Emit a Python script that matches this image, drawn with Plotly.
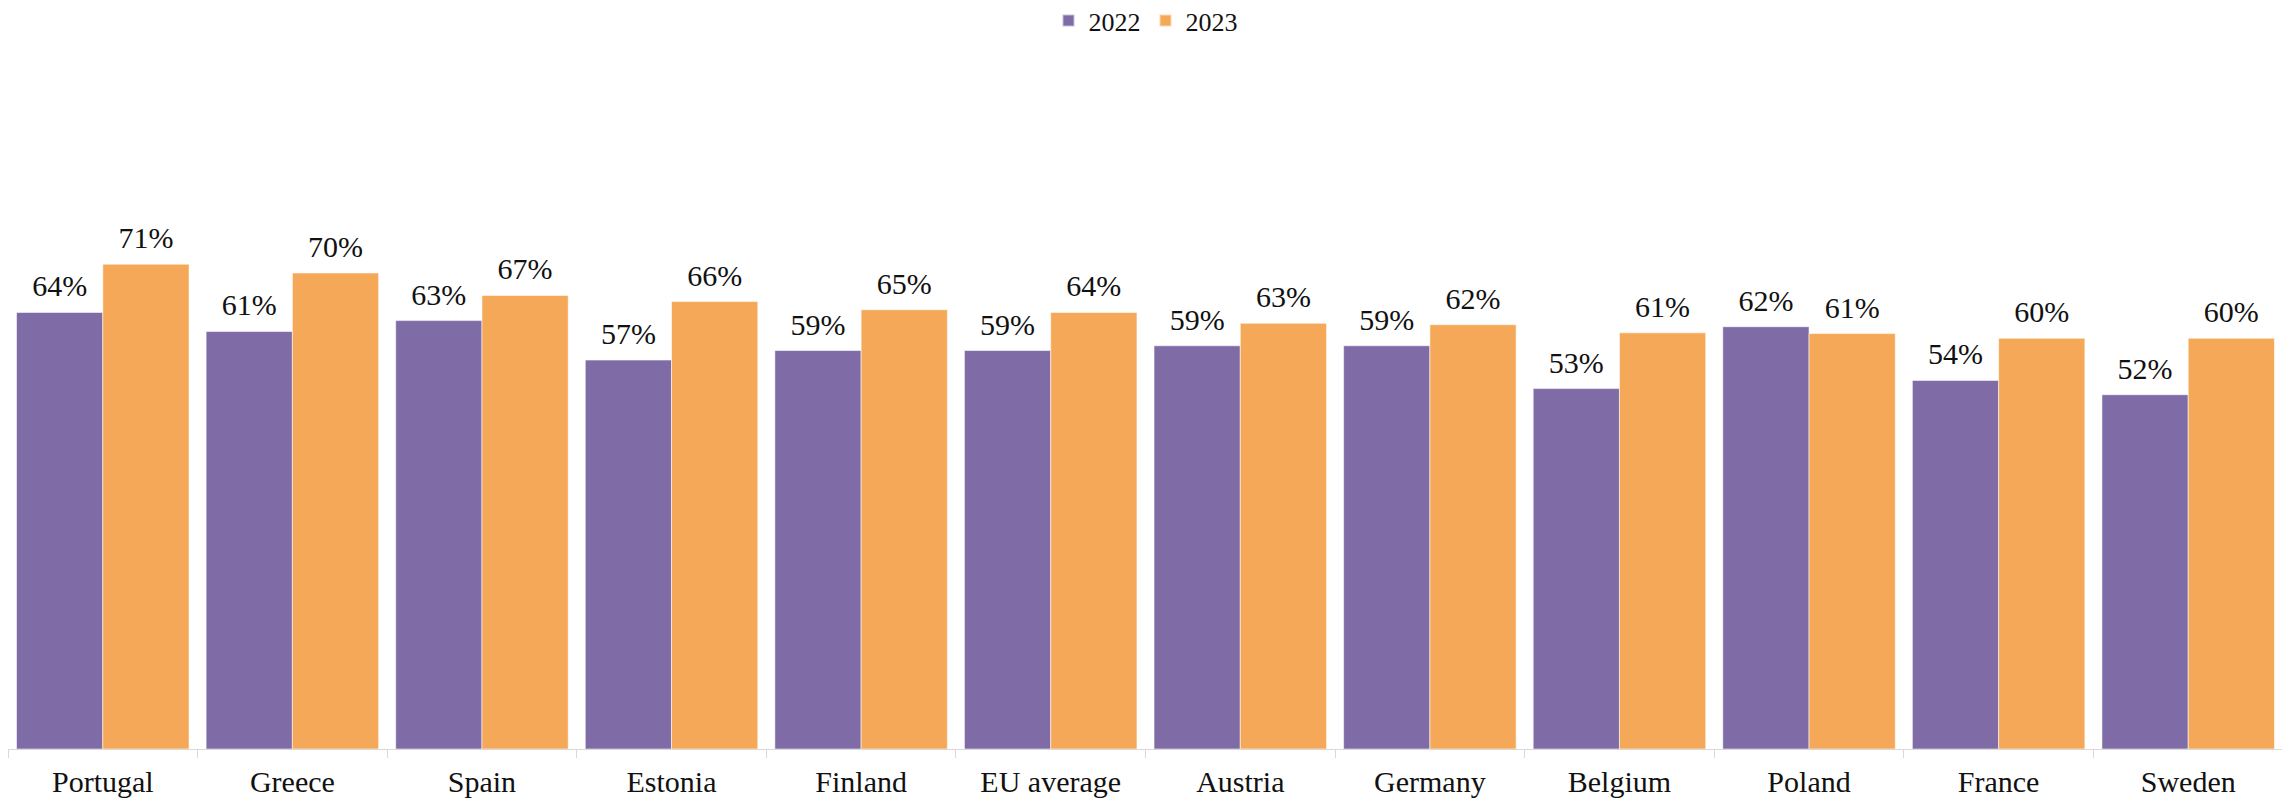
import plotly.graph_objects as go

countries = ["Portugal", "Greece", "Spain", "Estonia", "Finland", "EU average",
             "Austria", "Germany", "Belgium", "Poland", "France", "Sweden"]
values_2022 = [64.2, 61.4, 63.0, 57.2, 58.6, 58.6, 59.3, 59.3, 53.0, 62.1, 54.2, 52.1]
values_2023 = [71.3, 70.0, 66.7, 65.8, 64.6, 64.2, 62.6, 62.4, 61.2, 61.1, 60.4, 60.4]
series_names = ["2022", "2023"]

FONT = "Liberation Serif"
PURPLE = "#7F6CA7"
ORANGE = "#F5A958"
GAP = 0.09

fig = go.Figure()
for i, (name, vals, col) in enumerate([(series_names[0], values_2022, PURPLE),
                                       (series_names[1], values_2023, ORANGE)]):
    fig.add_trace(go.Bar(
        name=name, x=countries, y=vals, offsetgroup=str(i),
        marker=dict(color=col, line=dict(color="rgba(255,255,255,0.55)", width=1)),
        hoverinfo="x+y",
    ))
    fig.add_trace(go.Scatter(
        x=countries, y=vals, offsetgroup=str(i), mode="markers+text",
        marker=dict(size=12, opacity=0),
        texttemplate="%{y:.0f}%", textposition="top center",
        textfont=dict(family=FONT, size=30, color="#111111"),
        showlegend=False, cliponaxis=False, hoverinfo="skip",
    ))

# page body has an 8px margin, so the figure is sized to fill the window
fig.update_layout(
    width=2282, height=792,
    barmode="group", bargap=GAP, bargroupgap=0,
    scattermode="group", scattergap=GAP,
    plot_bgcolor="white", paper_bgcolor="white",
    margin=dict(l=0, r=7, t=61, b=51, autoexpand=False),
    font=dict(family=FONT, color="#111111"),
    showlegend=True,
    legend=dict(orientation="h", x=0.5, xanchor="center",
                yref="container", y=0.984, yanchor="middle",
                font=dict(family=FONT, size=26, color="#111111"),
                itemsizing="constant"),
)
fig.update_xaxes(
    showline=True, linecolor="#D9D9D9", linewidth=1,
    ticks="outside", tickson="boundaries", ticklen=8, tickcolor="#D9D9D9",
    tickfont=dict(family=FONT, size=30, color="#111111"),
    ticklabelstandoff=6,
    showgrid=False, automargin=False,
)
fig.update_yaxes(range=[0, 100], visible=False, showgrid=False, zeroline=False)

fig.write_html("out.html")
